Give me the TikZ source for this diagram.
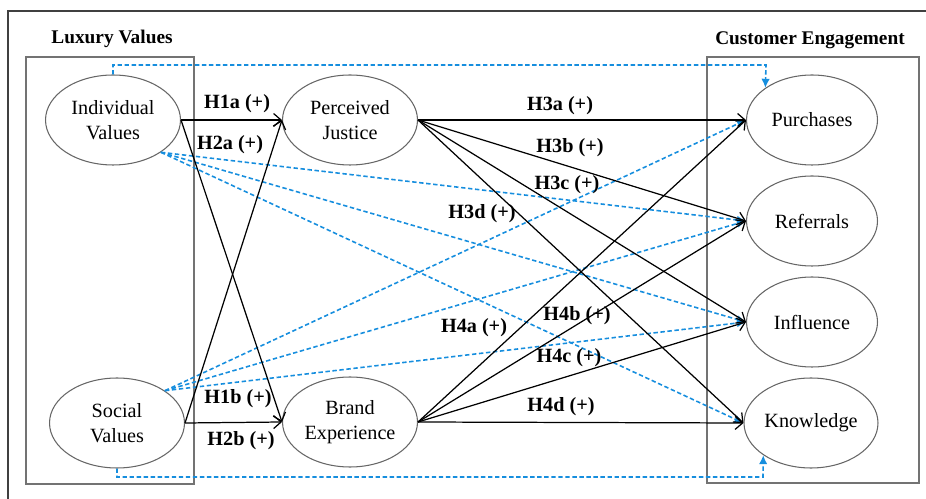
\documentclass[tikz,border=0pt]{standalone}
\usepackage{fontspec}
\setmainfont{Liberation Serif}
\usetikzlibrary{shapes.geometric,arrows.meta}
\definecolor{dotblue}{RGB}{22,142,222}
\tikzset{latent/.style={ellipse, draw=black!60, line width=0.6pt, minimum width=2.7cm,
minimum height=1.8cm, inner sep=0pt, align=center, font=\fontsize{11.5}{14}\selectfont},
hyp/.style={-{Straight Barb[length=1.5mm,width=2.6mm]}, line width=0.7pt},
modpath/.style={-{Latex[length=1.8mm,width=1.7mm]}, draw=dotblue, dash pattern=on 2.5pt off 1.5pt, line width=0.9pt},
hlab/.style={font=\bfseries\fontsize{11.5}{14}\selectfont, inner sep=1pt},
grp/.style={draw=black!55, line width=0.6pt},
grplab/.style={font=\bfseries\fontsize{11}{13}\selectfont}}

\begin{document}
\begin{tikzpicture}[x=0.02cm, y=-0.02cm]
				\useasboundingbox (0,0) rectangle (926,499);
				\draw[black!75, line width=0.9pt] (8,499) -- (8,11) -- (926,11);
				% groups
				\draw[grp] (26,57) rectangle (194,484);
				\draw[grp] (707,57) rectangle (919,483);
				\node[grplab] (lux) at (112,39) {Luxury Values};
				\node[grplab] (ce) at (810,40) {Customer Engagement};
				% constructs
				\node[latent] (iv) at (113,120) {Individual\\Values};
				\node[latent] (sv) at (117,423) {Social\\Values};
				\node[latent] (pj) at (350,120) {Perceived\\Justice};
				\node[latent] (be) at (350,422) {Brand\\Experience};
				\node[latent, minimum width=2.62cm] (pu) at (812,120) {Purchases};
				\node[latent, minimum width=2.62cm] (re) at (812,221) {Referrals};
				\node[latent, minimum width=2.62cm] (in) at (812,322) {Influence};
				\node[latent, minimum width=2.68cm] (kn) at (811,423) {Knowledge};
				% moderating paths
				\coordinate (t1) at (113,65);
				\coordinate (t2) at (766,65);
				\coordinate (b1) at (117,477);
				\coordinate (b2) at (763,477);
				\draw[modpath] (iv.north) -- (t1) -- (t2) -- (pu.north west);
				\draw[modpath] (sv.south) -- (b1) -- (b2) -- (kn.south west);
				\foreach \t in {re,in,kn}
					\draw[modpath] (iv.-34) -- (\t.west);
				\foreach \t in {pu,re,in}
					\draw[modpath] (sv.34) -- (\t.west);
				% hypotheses
				\draw[hyp] (iv.east) -- (pj.west);
				\draw[hyp] (iv.east) -- (be.west);
				\draw[hyp] (sv.east) -- (pj.west);
				\draw[hyp] (sv.east) -- (be.west);
				\foreach \t in {pu,re,in,kn}{
					\draw[hyp] (pj.east) -- (\t.west);
					\draw[hyp] (be.east) -- (\t.west);
				}
				\node[hlab] (h1a) at (237,104) {H1a (+)};
				\node[hlab] (h2a) at (230,145) {H2a (+)};
				\node[hlab] (h1b) at (238,399) {H1b (+)};
				\node[hlab] (h2b) at (241,441) {H2b (+)};
				\node[hlab] (h3a) at (560,106) {H3a (+)};
				\node[hlab] (h3b) at (570,148) {H3b (+)};
				\node[hlab] (h3c) at (567,185) {H3c (+)};
				\node[hlab] (h3d) at (482,214) {H3d (+)};
				\node[hlab] (h4a) at (474,328) {H4a (+)};
				\node[hlab] (h4b) at (577,316) {H4b (+)};
				\node[hlab] (h4c) at (569,358) {H4c (+)};
				\node[hlab] (h4d) at (561,407) {H4d (+)};
			\end{tikzpicture}
\end{document}
